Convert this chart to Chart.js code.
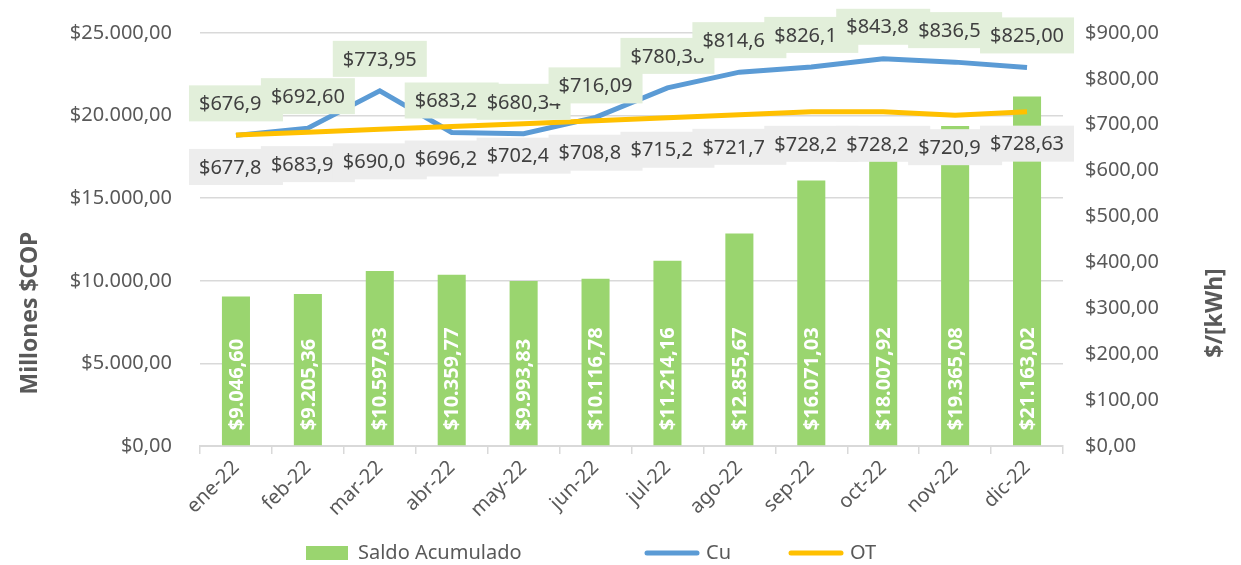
<!DOCTYPE html>
<html>
<head>
<meta charset="utf-8">
<script src="https://cdn.jsdelivr.net/npm/chart.js@4.4.1/dist/chart.umd.min.js"></script>
<style>
    html, body { margin: 0; padding: 0; background: #fff; }
</style>
</head>
<body>
<canvas id="chart" width="1241" height="565"></canvas>
<script>
// datos
const meses = ["ene-22", "feb-22", "mar-22", "abr-22", "may-22", "jun-22", "jul-22", "ago-22", "sep-22", "oct-22", "nov-22", "dic-22"];
const saldoAcumulado = [9046.60, 9205.36, 10597.03, 10359.77, 9993.83, 10116.78, 11214.16, 12855.67, 16071.03, 18007.92, 19365.08, 21163.02];
const cu = [676.93, 692.60, 773.95, 683.21, 680.34, 716.09, 780.38, 814.62, 826.14, 843.81, 836.52, 825.00];
const ot = [677.84, 683.95, 690.08, 696.26, 702.47, 708.83, 715.24, 721.71, 728.23, 728.25, 720.92, 728.63];

const FONT = '"Noto Sans", "DejaVu Sans", sans-serif';
const GRIS = '#595959';

function fmt(v, dec) {
    let parts = v.toFixed(dec).split('.');
    parts[0] = parts[0].replace(/\B(?=(\d{3})+(?!\d))/g, '.');
    return '$' + parts.join(',');
}

// etiquetas con fondo, barras rotadas, leyenda y titulos
const extras = {
    id: 'extras',
    afterDatasetsDraw(chart) {
        const ctx = chart.ctx;
        ctx.save();

        // valores dentro de las barras
        ctx.font = 'bold 20px ' + FONT;
        ctx.fillStyle = '#ffffff';
        ctx.textAlign = 'left';
        ctx.textBaseline = 'middle';
        chart.getDatasetMeta(0).data.forEach((bar, i) => {
            ctx.save();
            ctx.translate(bar.x + 1, bar.base - 15);
            ctx.rotate(-Math.PI / 2);
            ctx.fillText(fmt(saldoAcumulado[i], 2), 0, 0);
            ctx.restore();
        });

        // etiquetas de las lineas
        ctx.font = '20px ' + FONT;
        ctx.textAlign = 'center';
        [[1, cu, -32, '#E2EFDA'], [2, ot, 32, '#EDEDED']].forEach(([idx, vals, dy, bg]) => {
            chart.getDatasetMeta(idx).data.forEach((pt, i) => {
                const txt = fmt(vals[i], 2);
                const w = ctx.measureText(txt).width + 20;
                const cy = pt.y + dy;
                ctx.fillStyle = bg;
                ctx.fillRect(pt.x - w / 2, cy - 18, w, 36);
                ctx.fillStyle = '#404040';
                ctx.fillText(txt, pt.x, cy + 1);
            });
        });
        ctx.restore();
    },
    afterDraw(chart) {
        const ctx = chart.ctx;
        ctx.save();

        // titulos de ejes
        ctx.font = 'bold 23px ' + FONT;
        ctx.fillStyle = GRIS;
        ctx.textAlign = 'center';
        ctx.textBaseline = 'middle';
        [[30, 'Millones $COP'], [1215, '$/[kWh]']].forEach(([x, t]) => {
            ctx.save();
            ctx.translate(x, 313);
            ctx.rotate(-Math.PI / 2);
            ctx.fillText(t, 0, 0);
            ctx.restore();
        });

        // leyenda
        const y = 553;
        ctx.font = '20px ' + FONT;
        ctx.textAlign = 'left';
        ctx.fillStyle = '#9AD56F';
        ctx.fillRect(306, y - 7, 42, 14);
        ctx.lineCap = 'round';
        ctx.lineWidth = 5;
        ctx.strokeStyle = '#5B9BD5';
        ctx.beginPath(); ctx.moveTo(647, y); ctx.lineTo(697, y); ctx.stroke();
        ctx.strokeStyle = '#FFC000';
        ctx.beginPath(); ctx.moveTo(791, y); ctx.lineTo(841, y); ctx.stroke();
        ctx.fillStyle = GRIS;
        ctx.fillText('Saldo Acumulado', 358, y);
        ctx.fillText('Cu', 706, y);
        ctx.fillText('OT', 850, y);
        ctx.restore();
    }
};

const ctx = document.getElementById('chart').getContext('2d');
new Chart(ctx, {
    type: 'bar',
    data: {
        labels: meses,
        datasets: [
            {
                label: 'Saldo Acumulado',
                data: saldoAcumulado,
                backgroundColor: '#9AD56F',
                yAxisID: 'y',
                barPercentage: 0.39,
                categoryPercentage: 1,
                order: 2
            },
            {
                label: 'Cu',
                type: 'line',
                data: cu,
                borderColor: '#5B9BD5',
                borderWidth: 5,
                pointRadius: 0,
                tension: 0,
                yAxisID: 'y1',
                order: 1
            },
            {
                label: 'OT',
                type: 'line',
                data: ot,
                borderColor: '#FFC000',
                borderWidth: 5,
                pointRadius: 0,
                tension: 0,
                yAxisID: 'y1',
                order: 0
            }
        ]
    },
    options: {
        responsive: false,
        animation: false,
        layout: { padding: { top: 33, left: 0, right: 0, bottom: 0 } },
        plugins: {
            legend: { display: false },
            tooltip: { enabled: false }
        },
        scales: {
            x: {
                offset: true,
                grid: { offset: true, drawOnChartArea: false, drawTicks: true, tickLength: 8, color: '#D9D9D9', lineWidth: 1.5 },
                border: { color: '#D9D9D9', width: 2 },
                ticks: { font: { family: FONT, size: 20 }, color: GRIS, maxRotation: 45, minRotation: 45, padding: 2 },
                afterFit: (s) => { s.height = 119; s.paddingLeft = 0; s.paddingRight = 0; }
            },
            y: {
                position: 'left',
                min: 0,
                max: 25000,
                ticks: {
                    stepSize: 5000,
                    font: { family: FONT, size: 20 },
                    color: GRIS,
                    padding: 28,
                    callback: (v) => fmt(v, 2)
                },
                grid: { color: '#D9D9D9', lineWidth: 1.5, drawTicks: false },
                border: { display: false },
                afterFit: (s) => { s.width = 200; s.paddingTop = 0; s.paddingBottom = 0; }
            },
            y1: {
                position: 'right',
                min: 0,
                max: 900,
                ticks: {
                    stepSize: 100,
                    font: { family: FONT, size: 20 },
                    color: GRIS,
                    padding: 22,
                    callback: (v) => fmt(v, 2)
                },
                grid: { drawOnChartArea: false, drawTicks: false },
                border: { display: false },
                afterFit: (s) => { s.width = 178; s.paddingTop = 0; s.paddingBottom = 0; }
            }
        }
    },
    plugins: [extras]
});
</script>
</body>
</html>
